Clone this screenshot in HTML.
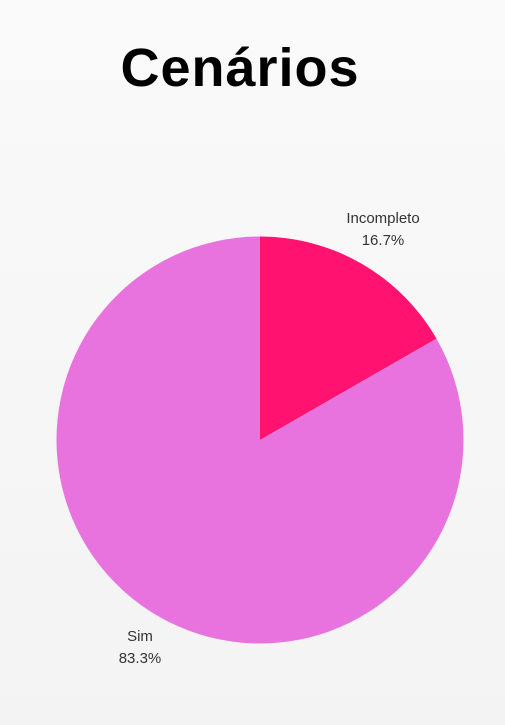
<!DOCTYPE html>
<html><head><meta charset="utf-8"><style>
html,body{margin:0;padding:0}
body{width:505px;height:725px;background:#f6f6f6;overflow:hidden;font-family:"Liberation Sans",sans-serif}
</style></head><body>
<div style="position:relative;width:505px;height:725px;background:linear-gradient(180deg,#fafafa,#f3f3f3)">
<div style="position:absolute;left:0;width:480px;top:36px;text-align:center;font-size:54px;font-weight:900;color:#000;letter-spacing:1px;line-height:64px">Cenários</div>
<svg id="pie" width="505" height="725" style="position:absolute;left:0;top:0"></svg>
</div>
<script>
const categories = ["Incompleto","Sim"];
const values = [16.7, 83.3];
const labels = ["16.7%","83.3%"];
const colors = ["#ff1270","#e873de"];
const svg = document.getElementById('pie');
const NS = "http://www.w3.org/2000/svg";
const cx = 260, cy = 440, r = 203.5;
const total = values.reduce((a,b)=>a+b,0);
let a0 = 0;
const labelPos = [{x:383,y:223},{x:140,y:641}];
values.forEach((v,i)=>{
  const a1 = a0 + v/total*2*Math.PI;
  const x0 = cx + r*Math.sin(a0), y0 = cy - r*Math.cos(a0);
  const x1 = cx + r*Math.sin(a1), y1 = cy - r*Math.cos(a1);
  const large = (a1-a0) > Math.PI ? 1 : 0;
  const p = document.createElementNS(NS,'path');
  p.setAttribute('d',`M${cx},${cy} L${x0},${y0} A${r},${r} 0 ${large} 1 ${x1},${y1} Z`);
  p.setAttribute('fill',colors[i]);
  
  
  svg.appendChild(p);
  const lp = labelPos[i];
  const t = document.createElementNS(NS,'text');
  t.setAttribute('x',lp.x); t.setAttribute('y',lp.y);
  t.setAttribute('text-anchor','middle');
  t.setAttribute('font-size','15');
  t.setAttribute('fill','#333');
  t.setAttribute('font-family','Liberation Sans, sans-serif');
  t.textContent = categories[i];
  
  
  svg.appendChild(t);
  const t2 = document.createElementNS(NS,'text');
  t2.setAttribute('x',lp.x); t2.setAttribute('y',lp.y+22);
  t2.setAttribute('text-anchor','middle');
  t2.setAttribute('font-size','15');
  t2.setAttribute('fill','#333');
  t2.setAttribute('font-family','Liberation Sans, sans-serif');
  t2.textContent = labels[i];
  
  
  svg.appendChild(t2);
  a0 = a1;
});
</script>
</body></html>
